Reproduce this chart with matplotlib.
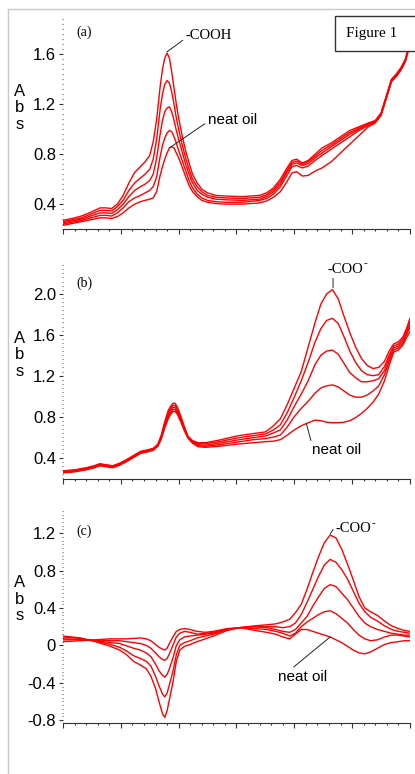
import matplotlib.pyplot as plt
from matplotlib.ticker import MultipleLocator, FuncFormatter
from matplotlib.lines import Line2D
from matplotlib.patches import Rectangle

plt.rcParams['font.family'] = ['Liberation Sans', 'DejaVu Sans']
plt.rcParams['axes.unicode_minus'] = False

# panel (a): neat oil (a1) ... most acid (a5)
xa = [0, 0.8, 1.6, 2.4, 3.2, 3.7, 4.2, 4.7, 5.2, 5.7, 6.2, 6.7, 7.1, 7.5, 7.8, 8.1, 8.4, 8.6, 8.8, 9.0,
      9.2, 9.4, 9.6, 9.8, 10.0, 10.3, 10.6, 10.9, 11.2, 11.6, 12.0, 12.5, 13.2, 14.0, 15.5, 17.0, 17.6, 18.2, 18.8, 19.3,
      19.8, 20.2, 20.7, 21.2, 21.8, 22.4, 23.2, 24.0, 24.8, 25.6, 26.4, 27.0, 27.5, 28.0, 28.4, 28.8, 29.2, 29.6, 30]
a5 = [0.27, 0.285, 0.305, 0.335, 0.37, 0.37, 0.365, 0.40, 0.47, 0.57, 0.655, 0.70, 0.74, 0.79, 0.90, 1.08, 1.34, 1.48, 1.57, 1.61,
      1.57, 1.46, 1.33, 1.20, 1.09, 0.95, 0.83, 0.73, 0.64, 0.57, 0.52, 0.49, 0.47, 0.465, 0.46, 0.47, 0.49, 0.53, 0.60, 0.68,
      0.75, 0.76, 0.73, 0.75, 0.80, 0.85, 0.89, 0.94, 0.99, 1.02, 1.05, 1.07, 1.13, 1.28, 1.40, 1.44, 1.49, 1.56, 1.70]
a4 = [0.26, 0.275, 0.29, 0.32, 0.35, 0.35, 0.345, 0.38, 0.43, 0.51, 0.57, 0.61, 0.64, 0.68, 0.76, 0.92, 1.16, 1.28, 1.36, 1.39,
      1.37, 1.30, 1.20, 1.09, 1.00, 0.88, 0.77, 0.68, 0.60, 0.54, 0.50, 0.47, 0.455, 0.45, 0.445, 0.455, 0.475, 0.515, 0.58, 0.66,
      0.735, 0.745, 0.72, 0.74, 0.785, 0.83, 0.875, 0.925, 0.975, 1.01, 1.045, 1.065, 1.125, 1.275, 1.395, 1.435, 1.485, 1.555, 1.695]
a3 = [0.25, 0.265, 0.28, 0.305, 0.33, 0.33, 0.325, 0.355, 0.40, 0.46, 0.51, 0.54, 0.56, 0.59, 0.64, 0.77, 0.96, 1.07, 1.14, 1.17,
      1.18, 1.14, 1.07, 0.99, 0.92, 0.82, 0.72, 0.64, 0.57, 0.51, 0.48, 0.455, 0.44, 0.435, 0.43, 0.44, 0.46, 0.50, 0.56, 0.645,
      0.72, 0.73, 0.71, 0.725, 0.77, 0.81, 0.86, 0.91, 0.96, 1.00, 1.04, 1.06, 1.12, 1.27, 1.39, 1.43, 1.48, 1.55, 1.69]
a2 = [0.24, 0.255, 0.27, 0.29, 0.31, 0.31, 0.305, 0.33, 0.37, 0.42, 0.45, 0.47, 0.49, 0.51, 0.54, 0.62, 0.78, 0.87, 0.93, 0.97,
      0.99, 0.98, 0.94, 0.89, 0.83, 0.75, 0.67, 0.59, 0.53, 0.48, 0.45, 0.43, 0.42, 0.415, 0.415, 0.43, 0.445, 0.48, 0.54, 0.62,
      0.70, 0.71, 0.69, 0.705, 0.75, 0.79, 0.84, 0.89, 0.94, 0.99, 1.03, 1.055, 1.115, 1.265, 1.385, 1.425, 1.475, 1.545, 1.685]
a1 = [0.23, 0.245, 0.26, 0.275, 0.29, 0.29, 0.285, 0.30, 0.33, 0.37, 0.40, 0.42, 0.43, 0.44, 0.45, 0.50, 0.63, 0.70, 0.76, 0.81,
      0.85, 0.86, 0.85, 0.81, 0.77, 0.70, 0.62, 0.55, 0.50, 0.46, 0.43, 0.415, 0.405, 0.40, 0.40, 0.41, 0.425, 0.455, 0.50, 0.57,
      0.65, 0.66, 0.625, 0.63, 0.665, 0.69, 0.74, 0.81, 0.88, 0.95, 1.02, 1.05, 1.11, 1.26, 1.38, 1.42, 1.47, 1.54, 1.68]

# panel (b)
xb = [0, 1.0, 2.0, 2.7, 3.2, 3.7, 4.3, 4.9, 5.5, 6.1, 6.7, 7.3, 7.8, 8.2, 8.5, 8.8, 9.1, 9.3, 9.5, 9.7,
      9.9, 10.2, 10.5, 10.8, 11.2, 11.7, 12.3, 13.5, 15.0, 16.5, 17.5, 18.2, 18.8, 19.4, 20.0, 20.6, 21.2, 21.8, 22.3, 22.8,
      23.3, 23.8, 24.3, 24.8, 25.3, 25.8, 26.3, 26.8, 27.3, 27.8, 28.2, 28.6, 29.0, 29.4, 29.7, 30]
b5 = [0.27, 0.28, 0.30, 0.32, 0.34, 0.33, 0.32, 0.345, 0.38, 0.42, 0.46, 0.475, 0.49, 0.53, 0.62, 0.75, 0.86, 0.90, 0.93, 0.93,
      0.89, 0.80, 0.70, 0.61, 0.565, 0.545, 0.545, 0.57, 0.61, 0.635, 0.65, 0.71, 0.78, 0.92, 1.08, 1.24, 1.48, 1.72, 1.90, 2.00,
      2.04, 1.95, 1.78, 1.62, 1.48, 1.37, 1.30, 1.27, 1.28, 1.34, 1.44, 1.51, 1.53, 1.58, 1.66, 1.76]
b4 = [0.265, 0.275, 0.295, 0.315, 0.335, 0.325, 0.315, 0.34, 0.375, 0.415, 0.455, 0.47, 0.485, 0.525, 0.61, 0.735, 0.84, 0.88, 0.91, 0.91,
      0.87, 0.785, 0.69, 0.605, 0.56, 0.535, 0.535, 0.555, 0.59, 0.615, 0.63, 0.67, 0.72, 0.84, 0.99, 1.15, 1.33, 1.53, 1.66, 1.74,
      1.76, 1.71, 1.58, 1.44, 1.33, 1.25, 1.21, 1.20, 1.21, 1.29, 1.40, 1.49, 1.51, 1.56, 1.64, 1.73]
b3 = [0.26, 0.27, 0.29, 0.31, 0.33, 0.32, 0.31, 0.335, 0.37, 0.41, 0.45, 0.465, 0.48, 0.52, 0.60, 0.72, 0.82, 0.86, 0.89, 0.89,
      0.85, 0.77, 0.68, 0.60, 0.55, 0.525, 0.52, 0.54, 0.57, 0.595, 0.61, 0.64, 0.67, 0.77, 0.90, 1.02, 1.15, 1.31, 1.40, 1.44,
      1.45, 1.41, 1.32, 1.23, 1.18, 1.14, 1.14, 1.15, 1.17, 1.25, 1.37, 1.47, 1.49, 1.54, 1.62, 1.70]
b2 = [0.255, 0.265, 0.285, 0.305, 0.325, 0.315, 0.305, 0.33, 0.365, 0.405, 0.445, 0.46, 0.475, 0.515, 0.59, 0.705, 0.80, 0.84, 0.87, 0.87,
      0.835, 0.755, 0.67, 0.595, 0.545, 0.515, 0.51, 0.525, 0.55, 0.575, 0.585, 0.60, 0.62, 0.70, 0.80, 0.88, 0.95, 1.03, 1.08, 1.10,
      1.11, 1.09, 1.05, 1.01, 0.99, 0.99, 1.01, 1.05, 1.10, 1.21, 1.34, 1.45, 1.47, 1.52, 1.60, 1.67]
b1 = [0.25, 0.26, 0.28, 0.30, 0.32, 0.31, 0.30, 0.325, 0.36, 0.40, 0.44, 0.455, 0.47, 0.51, 0.58, 0.69, 0.78, 0.82, 0.85, 0.85,
      0.82, 0.745, 0.66, 0.59, 0.54, 0.505, 0.50, 0.51, 0.53, 0.545, 0.555, 0.56, 0.575, 0.62, 0.67, 0.71, 0.74, 0.765, 0.76, 0.745,
      0.74, 0.74, 0.745, 0.76, 0.79, 0.83, 0.88, 0.94, 1.02, 1.15, 1.30, 1.43, 1.45, 1.50, 1.57, 1.63]

# panel (c): difference spectra
xc = [0, 1.5, 2.8, 4.1, 4.9, 5.5, 6.1, 6.7, 7.2, 7.6, 8.0, 8.3, 8.6, 8.8, 9.0, 9.2, 9.5, 9.8, 10.1, 10.5,
      11.0, 11.6, 12.3, 13.0, 14.2, 15.3, 16.6, 17.6, 18.4, 19.0, 19.6, 20.1, 20.6, 21.1, 21.6, 22.1, 22.6, 23.1, 23.6, 24.1,
      24.6, 25.1, 25.6, 26.1, 26.6, 27.2, 27.8, 28.4, 29.0, 29.5, 30]
c5 = [0.10, 0.08, 0.04, -0.01, -0.05, -0.10, -0.17, -0.21, -0.25, -0.33, -0.46, -0.60, -0.73, -0.77, -0.70, -0.58, -0.40, -0.17, -0.05, -0.01,
      0.01, 0.04, 0.07, 0.10, 0.16, 0.19, 0.21, 0.22, 0.23, 0.25, 0.28, 0.35, 0.44, 0.60, 0.78, 0.95, 1.10, 1.18, 1.15, 1.03,
      0.87, 0.70, 0.52, 0.40, 0.36, 0.32, 0.26, 0.21, 0.18, 0.16, 0.15]
c4 = [0.09, 0.075, 0.045, 0.01, -0.02, -0.06, -0.11, -0.14, -0.17, -0.22, -0.33, -0.43, -0.52, -0.55, -0.51, -0.42, -0.28, -0.10, 0.00, 0.03,
      0.05, 0.08, 0.10, 0.12, 0.17, 0.19, 0.20, 0.20, 0.20, 0.19, 0.20, 0.24, 0.33, 0.46, 0.60, 0.74, 0.86, 0.92, 0.89, 0.81,
      0.71, 0.58, 0.45, 0.36, 0.30, 0.26, 0.21, 0.17, 0.15, 0.14, 0.13]
c3 = [0.07, 0.065, 0.05, 0.03, 0.02, -0.005, -0.03, -0.05, -0.08, -0.12, -0.20, -0.27, -0.32, -0.34, -0.31, -0.25, -0.14, 0.00, 0.06, 0.09,
      0.10, 0.11, 0.12, 0.13, 0.17, 0.19, 0.20, 0.19, 0.17, 0.15, 0.14, 0.17, 0.24, 0.31, 0.42, 0.52, 0.61, 0.65, 0.63, 0.56,
      0.49, 0.40, 0.31, 0.24, 0.20, 0.17, 0.15, 0.13, 0.12, 0.11, 0.11]
c2 = [0.06, 0.06, 0.055, 0.05, 0.05, 0.04, 0.03, 0.02, 0.00, -0.03, -0.08, -0.12, -0.15, -0.16, -0.14, -0.09, 0.00, 0.09, 0.13, 0.15,
      0.14, 0.12, 0.13, 0.14, 0.17, 0.19, 0.18, 0.17, 0.15, 0.13, 0.10, 0.13, 0.20, 0.25, 0.29, 0.33, 0.36, 0.37, 0.34, 0.29,
      0.24, 0.17, 0.11, 0.07, 0.05, 0.06, 0.09, 0.11, 0.11, 0.10, 0.09]
c1 = [0.04, 0.05, 0.06, 0.07, 0.07, 0.07, 0.075, 0.08, 0.07, 0.05, 0.01, -0.02, -0.04, -0.05, -0.03, 0.02, 0.09, 0.15, 0.17, 0.18,
      0.17, 0.15, 0.14, 0.15, 0.18, 0.19, 0.16, 0.14, 0.12, 0.09, 0.07, 0.12, 0.17, 0.17, 0.15, 0.13, 0.11, 0.09, 0.06, 0.03,
      -0.01, -0.05, -0.08, -0.09, -0.07, -0.03, 0.01, 0.03, 0.04, 0.05, 0.05]


def fmt(v, pos):
    if abs(v) < 1e-9:
        return '0'
    return '%.1f' % v


def style(ax, ylo, yhi):
    ax.set_xlim(0, 30)
    ax.set_ylim(ylo, yhi)
    for s in ['top', 'right', 'left']:
        ax.spines[s].set_visible(False)
    ax.spines['bottom'].set_linewidth(0.8)
    ax.spines['bottom'].set_color('#333333')
    ax.xaxis.set_major_locator(MultipleLocator(5))
    ax.xaxis.set_minor_locator(MultipleLocator(1))
    ax.yaxis.set_major_locator(MultipleLocator(0.4))
    ax.yaxis.set_minor_locator(MultipleLocator(0.04))
    ax.yaxis.set_major_formatter(FuncFormatter(fmt))
    ax.tick_params(axis='x', which='major', length=3.5, width=0.8, color='#333333', labelbottom=False)
    ax.tick_params(axis='x', which='minor', length=1.7, width=0.8, color='#333333')
    ax.tick_params(axis='y', which='major', length=3, width=0.8, color='#333333', labelsize=12, pad=2)
    ax.tick_params(axis='y', which='minor', length=1, width=0.8, color='#555555')
    ax.patch.set_alpha(0)
    ax.text(-0.124, 0.575, 'A\nb\ns', transform=ax.transAxes, ha='center', va='center',
            fontsize=12, linespacing=1.12)


def coo_label(ax, txt_xy, line_from, line_to):
    # "-COO" with a small raised hyphen as the charge sign, plus a short leader line
    t = ax.text(txt_xy[0], txt_xy[1], '-COO', family=serif, fontsize=10.5, va='center')
    ax.annotate('-', xy=(1.0, 0.55), xycoords=t, family=serif, fontsize=8, ha='left', va='bottom')
    ax.annotate('', xy=line_to, xytext=line_from, arrowprops=leader)


fig = plt.figure(figsize=(4.15, 7.74), dpi=100)

# grey page frame
fig.add_artist(Line2D([8 / 415, 1], [1 - 9 / 774, 1 - 9 / 774], color='#c8c8c8', lw=1))
fig.add_artist(Line2D([8 / 415, 8 / 415], [0, 1 - 9 / 774], color='#c8c8c8', lw=1))

red = '#ff0000'
serif = ['Liberation Serif', 'DejaVu Serif']
leader = dict(arrowstyle='-', color='#222222', lw=0.7, shrinkA=0, shrinkB=0)

# (a)
ax1 = fig.add_axes([0.1518, 0.704, 0.836, 0.2726])
for y in [a1, a2, a3, a4, a5]:
    ax1.plot(xa, y, color=red, lw=1.0)
style(ax1, 0.2, 1.89)
ax1.text(0.04, 0.934, '(a)', transform=ax1.transAxes, family=serif, fontsize=10, va='center')
ax1.annotate('-COOH', xy=(9.0, 1.62), xytext=(10.6, 1.75), family=serif, fontsize=10.5,
             va='center', arrowprops=dict(leader, relpos=(0, 0.3)))
ax1.annotate('neat oil', xy=(9.2, 0.85), xytext=(12.5, 1.07), fontsize=11,
             va='center', arrowprops=dict(leader, relpos=(0, 0.4)))

# (b)
ax2 = fig.add_axes([0.1518, 0.3811, 0.836, 0.279])
for y in [b1, b2, b3, b4, b5]:
    ax2.plot(xb, y, color=red, lw=1.0)
style(ax2, 0.19, 2.3)
ax2.text(0.04, 0.907, '(b)', transform=ax2.transAxes, family=serif, fontsize=10, va='center')
coo_label(ax2, (22.9, 2.24), (23.35, 2.15), (23.35, 2.06))
ax2.annotate('neat oil', xy=(21.05, 0.73), xytext=(21.5, 0.47), fontsize=11,
             va='center', arrowprops=dict(leader, relpos=(0.0, 1.0)))

# (c)
ax3 = fig.add_axes([0.1518, 0.0659, 0.836, 0.2778])
for y in [c1, c2, c3, c4, c5]:
    ax3.plot(xc, y, color=red, lw=1.0)
style(ax3, -0.83, 1.47)
ax3.text(0.04, 0.89, '(c)', transform=ax3.transAxes, family=serif, fontsize=10, va='center')
coo_label(ax3, (23.6, 1.25), (23.35, 1.24), (23.1, 1.19))
ax3.annotate('neat oil', xy=(23.1, 0.09), xytext=(18.6, -0.335), fontsize=11,
             va='center', arrowprops=dict(leader, relpos=(0.25, 1.0)))

# "Figure 1" box
fig.add_artist(Rectangle((335 / 415, 1 - 51 / 774), 85 / 415, 35 / 774, transform=fig.transFigure,
                         facecolor='white', edgecolor='#333333', lw=1, zorder=5))
fig.text(346 / 415, 1 - 33 / 774, 'Figure 1', family=serif, fontsize=11, va='center', zorder=6)

fig.savefig('out.png', dpi=100)
